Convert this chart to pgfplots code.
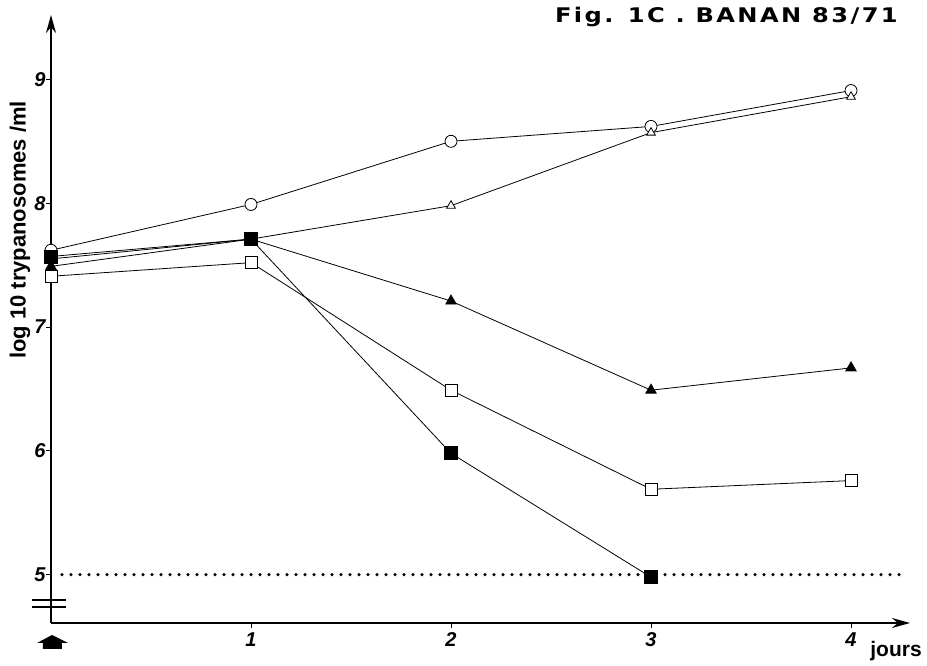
\documentclass[border=0pt]{standalone}
\usepackage{fontspec}
\setmainfont{Liberation Sans}
\newfontfamily\titlefont[LetterSpace=10]{DejaVu Sans}
\usepackage{pgfplots}
\pgfplotsset{compat=1.18}
\usetikzlibrary{arrows.meta}
\begin{document}
\begin{tikzpicture}
\path[use as bounding box] (-51pt,-43pt) rectangle (876pt,623pt);
\begin{axis}[at={(0pt,0pt)}, anchor=south west, scale only axis,
  width=859pt, height=608pt,
  xmin=0, xmax=4.295, ymin=4.61, ymax=9.52,
  axis x line=bottom, axis y line=left,
  axis line style={line width=1.8pt, -{Stealth[length=18pt,width=10pt]}},
  xtick={1,2,3,4}, ytick={5,6,7,8,9},
  tick style={line width=1pt, black}, major tick length=5pt,
  tick align=outside,
  ticklabel style={font=\fontsize{20}{20}\selectfont\bfseries\itshape},
  yticklabel style={xshift=3pt},
  xticklabel style={yshift=-1pt},
  /pgf/number format/assume math mode=true,
  clip=false,
  every axis plot/.append style={line width=0.8pt, black},
]
% dotted limit line
\addplot[line width=3.5pt, line cap=round, dash pattern=on 0pt off 9pt, mark=none]
  coordinates {(0.055,5) (4.27,5)};
% open circles
\addplot[mark=*, mark size=6pt, mark options={fill=white, line width=0.8pt}]
  coordinates {(0,7.62) (1,7.99) (2,8.50) (3,8.62) (4,8.91)};
% open triangles
\addplot[mark=triangle*, mark size=5pt, mark options={fill=white, line width=0.8pt}]
  coordinates {(0,7.55) (1,7.71) (2,7.98) (3,8.57) (4,8.86)};
% filled triangles
\addplot[mark=triangle*, mark size=6pt, mark options={fill=black}]
  coordinates {(0,7.49) (1,7.71) (2,7.21) (3,6.49) (4,6.67)};
% open squares
\addplot[mark=square*, mark size=6pt, mark options={fill=white, line width=0.8pt}]
  coordinates {(0,7.41) (1,7.52) (2,6.49) (3,5.69) (4,5.76)};
% filled squares
\addplot[mark=square*, mark size=6.5pt, mark options={fill=black}]
  coordinates {(0,7.57) (1,7.71) (2,5.98) (3,4.98)};
\end{axis}
% axis break marks
\draw[line width=1.2pt] (-19pt,16pt) -- (15pt,16pt);
\draw[line width=1.2pt] (-19pt,23pt) -- (15pt,23pt);
% arrow under origin
\fill (1pt,-12pt) -- (17pt,-20pt) -- (11pt,-20pt) -- (11pt,-26pt) -- (-8pt,-26pt) -- (-8pt,-20pt) -- (-14pt,-20pt) -- cycle;
% labels
\node[rotate=90, font=\bfseries\fontsize{22}{22}\selectfont] at (-31pt,393pt) {log 10 trypanosomes /ml};
\node[anchor=east, inner sep=0pt, xscale=1.34, yscale=1.12] at (847pt,606pt) {\titlefont\fontsize{18}{22}\selectfont\bfseries Fig. 1C . BANAN 83/71};
\node[font=\bfseries\fontsize{21}{21}\selectfont] at (845pt,-28pt) {jours};
\end{tikzpicture}
\end{document}
